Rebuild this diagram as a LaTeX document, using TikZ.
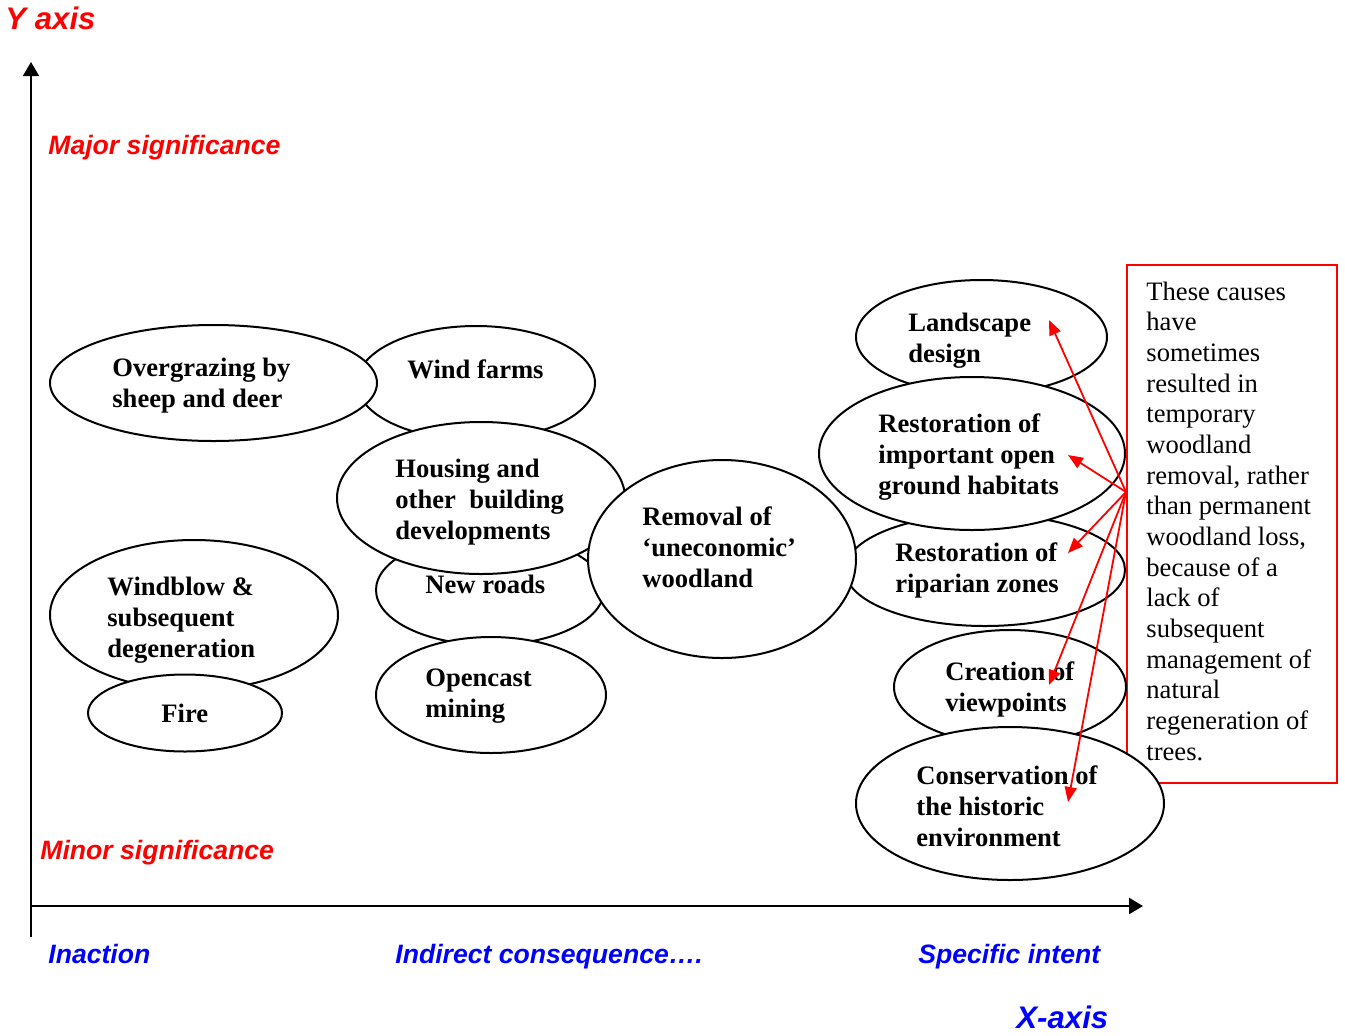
\documentclass[tikz,border=0pt]{standalone}
\usepackage{fontspec}
\setmainfont{Liberation Serif}
\newfontfamily\arialfont{Liberation Sans}
\usetikzlibrary{shapes,arrows.meta}

\begin{document}
\begin{tikzpicture}[x=0.5pt,y=-0.5pt]
  \tikzstyle{blob}=[ellipse,draw,fill=white,line width=1pt,inner sep=0pt]
  \tikzstyle{btxt}=[align=left,anchor=west,inner sep=0pt,yshift=-1.25pt,font=\fontsize{13.3}{15.5}\selectfont\bfseries]
  \tikzstyle{redlab}=[anchor=base west,inner sep=0pt,text=red,font=\arialfont\fontsize{13.3}{15}\selectfont\bfseries\itshape]
  \tikzstyle{bluelab}=[redlab,text=blue]
  \tikzstyle{cause}=[red,line width=0.9pt,-{Triangle[length=7.5pt,width=6pt]}]
  \useasboundingbox (0,0) rectangle (1345,1035);

  % axes
  \coordinate (ytop) at (31,62);
  \coordinate (ybot) at (31,937);
  \coordinate (xl) at (31,906);
  \coordinate (xr) at (1143,906);
  \draw[line width=0.8pt,-{Triangle[length=7pt,width=8pt]}] (ybot) -- (ytop);
  \draw[line width=1.3pt,-{Triangle[length=7pt,width=8pt]}] (xl) -- (xr);

  \node[redlab,font=\arialfont\fontsize{15.6}{18}\selectfont\bfseries\itshape] (yax) at (5,29.5) {Y axis};
  \node[redlab] (major) at (48,154) {Major significance};
  \node[redlab] (minor) at (40,859.5) {Minor significance};
  \node[bluelab] (inact) at (48,963.5) {Inaction};
  \node[bluelab] (indir) at (395,963.5) {Indirect consequence….};
  \node[bluelab] (spec) at (918,963.5) {Specific intent};
  \node[bluelab,font=\arialfont\fontsize{15.6}{18}\selectfont\bfseries\itshape] (xax) at (1016,1028) {X-axis};

  % causes
  \node[blob,minimum width=119pt,minimum height=57pt] (windf) at (476,383) {};
  \node[btxt] (windf-t) at (407,367) {Wind farms};
  \node[blob,minimum width=163.5pt,minimum height=58pt] (graze) at (213.5,383) {};
  \node[btxt] (graze-t) at (112,383) {Overgrazing by\\sheep and deer};
  \node[blob,minimum width=114pt,minimum height=55pt] (roads) at (490,590) {};
  \node[btxt] (roads-t) at (425,582) {New roads};
  \node[blob,minimum width=144pt,minimum height=76pt] (house) at (481,498) {};
  \node[btxt] (house-t) at (395,500) {Housing and\\other\ \ building\\developments};
  \node[blob,minimum width=115pt,minimum height=58pt] (mine) at (491,695) {};
  \node[btxt] (mine-t) at (425,694) {Opencast\\mining};
  \node[blob,minimum width=140pt,minimum height=56pt] (ripar) at (985,570) {};
  \node[btxt] (ripar-t) at (895,568) {Restoration of\\riparian zones};
  \node[blob,minimum width=125.5pt,minimum height=57pt] (land) at (981.5,337) {};
  \node[btxt] (land-t) at (908,338) {Landscape\\design};
  \node[blob,minimum width=153pt,minimum height=76.5pt] (open) at (972,453.5) {};
  \node[btxt] (open-t) at (878,455) {Restoration of\\important open\\ground habitats};
  \node[blob,minimum width=134pt,minimum height=99pt] (remov) at (722,559) {};
  \node[btxt] (remov-t) at (642,545) {Removal of\\‘uneconomic’\\woodland};

  \node[draw=red,line width=1pt,minimum width=105pt,minimum height=259pt,inner sep=0pt] (note) at (1231.5,524) {};
  \node[align=left,anchor=west,inner sep=0pt,font=\fontsize{13.3}{15.33}\selectfont] (note-t) at (1146,521)
    {These causes\\have\\sometimes\\resulted in\\temporary\\woodland\\removal, rather\\than permanent\\woodland loss,\\because of a\\lack of\\subsequent\\management of\\natural\\regeneration of\\trees.};

  \node[blob,minimum width=116pt,minimum height=57pt] (view) at (1010,687) {};
  \node[btxt] (view-t) at (945,687) {Creation of\\viewpoints};
  \node[blob,minimum width=154pt,minimum height=76.5pt] (cons) at (1010,803.5) {};
  \node[btxt] (cons-t) at (916,804) {Conservation of\\the historic\\environment};

  \node[blob,minimum width=144pt,minimum height=75pt] (wblow) at (194,615) {};
  \node[btxt] (wblow-t) at (107,618) {Windblow \&\\subsequent\\degeneration};
  \node[blob,minimum width=97pt,minimum height=38.5pt] (fire) at (185,713) {};
  \node[btxt] (fire-t) at (161,711) {Fire};

  % red arrows from the note
  \coordinate (src) at (1126,492);
  \coordinate (land-a) at (1049,320);
  \coordinate (open-a) at (1068,455);
  \coordinate (ripar-a) at (1068,553);
  \coordinate (view-a) at (1049,685);
  \coordinate (cons-a) at (1068,802);
  \foreach \t in {land-a,open-a,ripar-a,view-a,cons-a}
    \draw[cause] (src) -- (\t);
\end{tikzpicture}
\end{document}
